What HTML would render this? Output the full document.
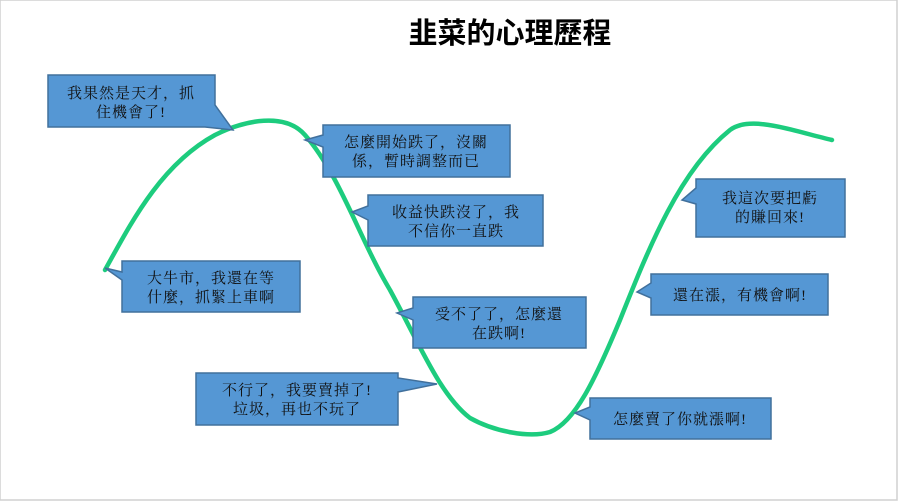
<!DOCTYPE html>
<html><head><meta charset="utf-8"><style>
body{margin:0;background:#fff;width:900px;height:502px;overflow:hidden}
svg{display:block}
.t{font-family:"Liberation Serif","Noto Serif CJK SC","Noto Sans CJK TC",serif;font-size:15px;fill:#111;text-anchor:middle;letter-spacing:1px}
.b{fill:#5597d4;stroke:#41709c;stroke-width:1.5}
</style></head><body>
<svg width="900" height="502" viewBox="0 0 900 502">
<rect x="0" y="0" width="897" height="500" fill="#fff" stroke="#d0d0d0" stroke-width="1.5"/>
<text x="510" y="43" style="font-family:'Liberation Sans','Noto Sans CJK TC',sans-serif;font-size:29px;font-weight:bold;text-anchor:middle;fill:#000">韭菜的心理歷程</text>
<path d="M105,270 C130,225 160,165 215,135 C245,120 285,112 305,135 C340,175 360,240 390,290 C420,345 440,395 470,418 C495,432 530,438 550,432 C575,422 595,380 620,320 C650,245 680,170 730,130 C750,115 790,130 832,140" fill="none" stroke="#1dcc7e" stroke-width="4.5" stroke-linecap="round"/>
<path class="b" d="M48,75 H215 V105 L233,130 L205,127 H48 Z"/>
<text class="t" x="131" y="98">我果然是天才，抓</text><text class="t" x="131" y="117">住機會了!</text>
<path class="b" d="M323,125 H510 V177 H323 V147 L305,140 L323,135 Z"/>
<text class="t" x="416" y="147">怎麼開始跌了，沒關</text><text class="t" x="416" y="166">係，暫時調整而已</text>
<path class="b" d="M368,195 H543 V246 H368 V220 L352,212 L368,206 Z"/>
<text class="t" x="456" y="217">收益快跌沒了，我</text><text class="t" x="456" y="236">不信你一直跌</text>
<path class="b" d="M122,261 H300 V312 H122 V280 L105,268 L122,272 Z"/>
<text class="t" x="211" y="283">大牛市，我還在等</text><text class="t" x="211" y="302">什麼，抓緊上車啊</text>
<path class="b" d="M413,297 H586 V348 H413 V320 L397,313 L413,308 Z"/>
<text class="t" x="499" y="319">受不了了，怎麼還</text><text class="t" x="499" y="338">在跌啊!</text>
<path class="b" d="M196,373 H398 V378 L437,384 L398,392 V425 H196 Z"/>
<text class="t" x="297" y="395">不行了，我要賣掉了!</text><text class="t" x="297" y="414">垃圾，再也不玩了</text>
<path class="b" d="M590,398 H771 V439 H590 V420 L575,413 L590,407 Z"/>
<text class="t" x="680" y="424">怎麼賣了你就漲啊!</text>
<path class="b" d="M651,274 H828 V315 H651 V298 L637,292 L651,283 Z"/>
<text class="t" x="740" y="300">還在漲，有機會啊!</text>
<path class="b" d="M696,179 H845 V237 H696 V204 L682,200 L696,188 Z"/>
<text class="t" x="770" y="203">我這次要把虧</text><text class="t" x="770" y="222">的賺回來!</text>
</svg>
</body></html>
